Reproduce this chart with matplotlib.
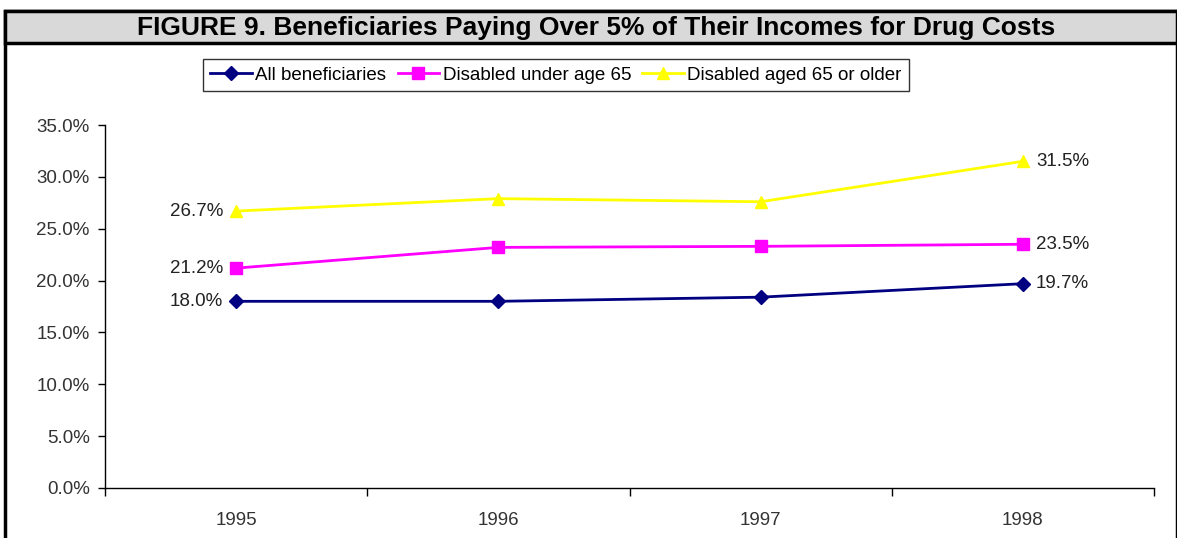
import matplotlib.pyplot as plt
from matplotlib.patches import Rectangle
from matplotlib.lines import Line2D

plt.rcParams['font.family'] = ['Liberation Sans', 'DejaVu Sans']

years = ['1995', '1996', '1997', '1998']
all_benef = [18.0, 18.0, 18.4, 19.7]
disabled_under65 = [21.2, 23.2, 23.3, 23.5]
disabled_65plus = [26.7, 27.9, 27.6, 31.5]

series = [
    ('All beneficiaries', all_benef, '#000080', 'D', 7),
    ('Disabled under age 65', disabled_under65, '#ff00ff', 's', 8),
    ('Disabled aged 65 or older', disabled_65plus, '#ffff00', '^', 9),
]

W, H = 1177, 538
fig = plt.figure(figsize=(W / 100, H / 100), dpi=100)

# frame (runs off the bottom edge) and grey title bar
fig.patches.append(Rectangle((5 / W, -20 / H), (W - 5) / W, (H + 9) / H, transform=fig.transFigure,
                             facecolor='white', edgecolor='black', linewidth=2.5, zorder=-2))
fig.patches.append(Rectangle((5 / W, (H - 43) / H), (W - 5) / W, 32 / H, transform=fig.transFigure,
                             facecolor='#d9d9d9', edgecolor='black', linewidth=2.5, zorder=-1))
fig.text(596 / W, (H - 28) / H, 'FIGURE 9. Beneficiaries Paying Over 5% of Their Incomes for Drug Costs',
         ha='center', va='center', fontsize=19, fontweight='bold', color='black')

ax = fig.add_axes([105 / W, 50 / H, (1154 - 105) / W, (488 - 125) / H])
ax.set_facecolor('none')
x = list(range(len(years)))
for name, vals, col, mk, ms in series:
    ax.plot(x, vals, color=col, marker=mk, markersize=ms, linewidth=2, label=name)
    ax.text(x[0] - 0.05, vals[0], f'{vals[0]:.1f}%', ha='right', va='center', fontsize=13.5, color='#222222')
    ax.text(x[-1] + 0.05, vals[-1], f'{vals[-1]:.1f}%', ha='left', va='center', fontsize=13.5, color='#222222')

ax.set_xlim(-0.5, len(years) - 0.5)
ax.set_ylim(0, 35)
ax.set_yticks([0, 5, 10, 15, 20, 25, 30, 35])
ax.set_yticklabels([f'{v:.1f}%' for v in ax.get_yticks()], fontsize=13.5, color='#333333')
ax.set_xticks([i - 0.5 for i in range(len(years) + 1)])
ax.set_xticklabels([])
ax.set_xticks(x, minor=True)
ax.set_xticklabels(years, minor=True, fontsize=13.5, color='#333333')
ax.tick_params(axis='x', which='major', direction='out', length=6, width=1, color='black')
ax.tick_params(axis='x', which='minor', length=0, pad=17)
ax.tick_params(axis='y', direction='out', length=5, width=1, color='black', pad=6)
for s in ['top', 'right']:
    ax.spines[s].set_visible(False)
for s in ['left', 'bottom']:
    ax.spines[s].set_color('black')
    ax.spines[s].set_linewidth(1)

handles = [Line2D([0], [0], color=c, marker=m, markersize=ms, linewidth=2) for _, _, c, m, ms in series]
leg = fig.legend(handles, [s[0] for s in series], loc='center', bbox_to_anchor=(556 / W, (H - 75) / H),
                 ncol=3, fontsize=13.5, frameon=True, fancybox=False, handlelength=2.2,
                 handletextpad=0.2, columnspacing=0.6, borderpad=0.4)
leg.get_frame().set_edgecolor('black')
leg.get_frame().set_linewidth(1)

fig.savefig('out.png', dpi=100)
